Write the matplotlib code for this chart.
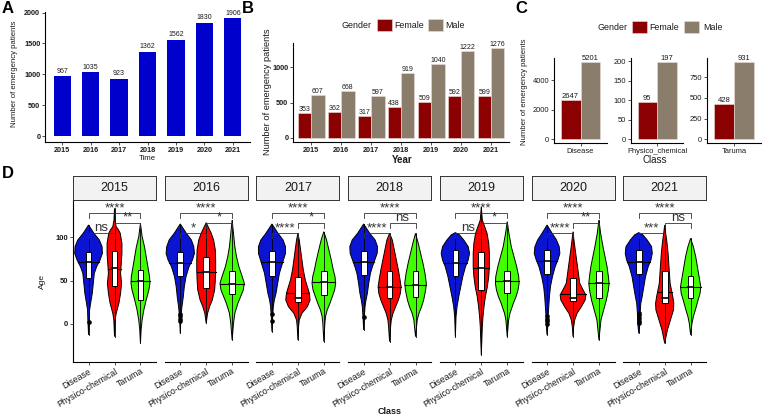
import numpy as np
import matplotlib
matplotlib.use("Agg")
import matplotlib.pyplot as plt
from matplotlib.patches import Rectangle

plt.rcParams['font.family'] = ['Liberation Sans', 'DejaVu Sans']

# ---------------- data ----------------
years = ['2015', '2016', '2017', '2018', '2019', '2020', '2021']
total_patients = [967, 1035, 923, 1362, 1562, 1830, 1906]
genders = ['Female', 'Male']
female_by_year = [353, 362, 317, 438, 509, 592, 599]
male_by_year = [607, 668, 597, 919, 1040, 1222, 1276]
classes_c = ['Disease', 'Physico_chemical', 'Taruma']
female_by_class = [2647, 95, 428]
male_by_class = [5201, 197, 931]
c_ticks = [[0, 2000, 4000], [0, 50, 100, 150, 200], [0, 250, 500, 750]]
classes_d = ['Disease', 'Physico-chemical', 'Taruma']

# violin profiles (age, relative density) per year
dis_ages = [
    [114.3, 104.7, 97.0, 89.3, 81.6, 73.9, 66.2, 58.5, 47.0, 35.4, 23.8, 16.2, 4.6, -12.7],
    [115.5, 104.7, 97.0, 89.3, 81.6, 73.9, 66.2, 54.7, 43.1, 31.5, 20.0, 8.5, -10.8],
    [115.5, 104.7, 97.0, 89.3, 81.6, 73.9, 66.2, 58.5, 47.0, 35.4, 27.7, 20.0, 8.5, -8.9],
    [115.5, 104.7, 97.0, 89.3, 81.6, 73.9, 66.2, 58.5, 47.0, 35.4, 27.7, 20.0, 8.5, -7.0],
    [105.5, 103.0, 97.0, 89.3, 81.6, 73.9, 66.2, 54.7, 43.1, 31.5, 20.0, 8.5, -14.6],
    [114.3, 104.7, 97.0, 89.3, 81.6, 73.9, 66.2, 54.7, 43.1, 31.5, 20.0, 8.5, -3.1, -12.7],
    [105.5, 103.0, 97.0, 89.3, 81.6, 73.9, 66.2, 54.7, 43.1, 31.5, 23.8, 12.3, 0.8, -10.8],
]
dis_dens = [
    [0, 16, 32, 40, 41, 34, 24, 17, 14, 11, 6, 3, 2, 0],
    [0, 18, 33, 40, 42, 36, 26, 17, 12, 9, 5, 2, 0],
    [0, 18, 33, 40, 40, 34, 28, 22, 17, 12, 7, 4, 2, 0],
    [0, 18, 34, 41, 40, 33, 26, 20, 15, 11, 7, 4, 2, 0],
    [0, 12, 25, 38, 42, 38, 30, 22, 16, 10, 5, 2, 0],
    [0, 15, 28, 36, 38, 32, 24, 16, 10, 7, 5, 3, 2, 0],
    [0, 12, 25, 38, 40, 36, 28, 20, 15, 10, 6, 4, 3, 0],
]
phy_ages = [
    [133.6, 120.0, 112.4, 108.6, 104.7, 93.2, 81.6, 70.1, 58.5, 47.0, 35.4, 23.8, 12.3, 4.6, -14.6],
    [117.0, 104.7, 97.0, 85.5, 73.9, 62.4, 50.8, 39.3, 27.7, 20.0, 12.3, 0.8],
    [104.7, 97.0, 85.5, 73.9, 62.4, 50.8, 43.1, 35.4, 27.7, 20.0, 12.3, 4.6, -3.1, -18.5],
    [104.7, 97.0, 85.5, 73.9, 62.4, 50.8, 43.1, 35.4, 27.7, 20.0, 12.3, 4.6, -3.1, -20.4],
    [135.5, 120.1, 112.4, 104.7, 93.2, 81.6, 66.2, 54.7, 43.1, 31.5, 20.0, 8.5, -3.1, -35.8],
    [106.6, 93.2, 81.6, 70.1, 58.5, 47.0, 39.3, 33.5, 27.7, 20.0, 12.3, 4.6, -3.1, -14.6],
    [114.3, 104.7, 93.2, 81.6, 70.1, 58.5, 47.0, 39.3, 31.5, 23.8, 16.2, 8.5, 0.8, -7.0, -14.6, -22.4],
]
phy_dens = [
    [0, 1.5, 5, 12, 17, 22, 22, 20, 18, 21, 18, 13, 5, 2, 0],
    [0, 15, 22, 27, 28, 28, 27, 25, 18, 10, 4, 0],
    [0, 4, 8, 12, 16, 22, 28, 34, 36, 28, 12, 4, 2, 0],
    [0, 8, 14, 20, 26, 31, 34, 32, 26, 18, 10, 5, 3, 0],
    [0, 3, 10, 17, 22, 24, 24, 22, 18, 12, 8, 5, 3, 0],
    [0, 4, 8, 12, 16, 20, 30, 38, 36, 25, 12, 5, 2, 0],
    [0, 3, 7, 10, 12, 14, 16, 20, 24, 27, 26, 20, 14, 8, 4, 0],
]
tar_ages = [
    [116.2, 100.9, 89.3, 77.8, 66.2, 54.7, 47.0, 39.3, 27.7, 16.2, 4.6, -7.0, -22.4],
    [120.1, 104.7, 89.3, 77.8, 66.2, 54.7, 47.0, 39.3, 31.5, 23.8, 12.3, 0.8, -18.5],
    [106.6, 97.0, 85.5, 73.9, 62.4, 54.7, 47.0, 39.3, 31.5, 23.8, 16.2, 8.5, 0.8, -20.4],
    [104.7, 93.2, 81.6, 70.1, 58.5, 47.0, 39.3, 27.7, 20.0, 12.3, 4.6, -14.6],
    [118.2, 104.7, 89.3, 77.8, 66.2, 54.7, 47.0, 39.3, 31.5, 23.8, 12.3, 4.6, -14.6],
    [120.1, 104.7, 89.3, 77.8, 66.2, 54.7, 47.0, 39.3, 27.7, 16.2, 4.6, -7.0, -18.5],
    [98.9, 89.3, 77.8, 66.2, 54.7, 43.1, 35.4, 27.7, 16.2, 8.5, 0.8, -12.7],
]
tar_dens = [
    [0, 5, 12, 17, 22, 27, 28, 25, 17, 10, 5, 2, 0],
    [0, 4, 8, 13, 20, 30, 36, 33, 25, 17, 8, 4, 0],
    [0, 8, 15, 22, 28, 33, 35, 32, 25, 18, 10, 5, 3, 0],
    [0, 8, 15, 22, 28, 32, 30, 24, 18, 10, 5, 0],
    [0, 5, 12, 20, 28, 34, 35, 32, 26, 18, 8, 4, 0],
    [0, 5, 12, 18, 24, 28, 30, 28, 22, 14, 6, 3, 0],
    [0, 8, 15, 20, 25, 30, 28, 22, 14, 8, 4, 0],
]
# box statistics
dis_q1 = [52.7, 55.4, 55.4, 56.6, 55.4, 57.7, 57.7]
dis_med = [72.0, 70.8, 72.0, 72.0, 70.8, 72.7, 72.0]
dis_q3 = [82.8, 83.5, 84.3, 84.3, 85.5, 85.5, 85.5]
dis_vmed = [72.0, 70.8, 72.0, 72.0, 70.8, 72.7, 72.0]
dis_out = [[2.7], [3, 6, 9, 12], [4, 12], [8.5], [], [0, 3, 6, 9], [1, 4, 7, 10, 13]]
phy_q1 = [43.9, 41.2, 25.5, 30.4, 39.3, 26.5, 24.0]
phy_med = [65.0, 60.4, 30.0, 42.3, 64.3, 29.5, 30.0]
phy_q3 = [84.7, 77.8, 54.0, 61.2, 82.8, 52.7, 61.0]
phy_vmed = [63.0, 60.4, 36.0, 42.3, 64.3, 34.2, 37.0]
phy_out = [[], [], [], [], [], [], []]
tar_q1 = [28.0, 34.2, 34.0, 31.5, 36.2, 30.4, 30.0]
tar_med = [50.0, 45.8, 49.0, 45.0, 49.6, 47.0, 43.0]
tar_q3 = [62.0, 61.2, 61.0, 61.2, 61.2, 61.2, 56.0]
tar_vmed = [50.0, 45.8, 49.0, 45.0, 49.6, 47.0, 43.0]
tar_out = [[], [], [], [], [], [], []]

sig_all = ['****'] * 7
sig_dp = ['ns', '*', '****', '****', 'ns', '****', '***']
sig_pt = ['**', '*', '*', 'ns', '*', '**', 'ns']

# ---------------- style ----------------
W, H = 763, 419
col_bar = '#0000CD'
col_f = '#8B0000'
col_m = '#8B7D6B'
col_v = ['#0A14D2', '#FF0000', '#40FF00']
TXT = '#1A1A1A'

fig = plt.figure(figsize=(W / 100, H / 100), dpi=100)
fig.patch.set_facecolor('white')


def px_axes(l, t, r, b):
    return fig.add_axes([l / W, 1 - b / H, (r - l) / W, (b - t) / H])


def fx(x):
    return x / W


def fy(y):
    return 1 - y / H


def style(ax, left=True, tick_fs=5.2, bold=False):
    for s in ['top', 'right']:
        ax.spines[s].set_visible(False)
    ax.spines['bottom'].set_linewidth(0.8)
    ax.spines['left'].set_linewidth(0.8)
    if not left:
        ax.spines['left'].set_visible(False)
    ax.tick_params(length=2.2, width=0.6, pad=1.2, labelsize=tick_fs,
                   colors='#333333', labelcolor=TXT)
    if bold:
        for lab in ax.get_xticklabels() + ax.get_yticklabels():
            lab.set_fontweight('bold')


# ---------------- Panel A ----------------
axA = px_axes(45, 12.5, 250, 142)
xa = np.arange(1, len(years) + 1)
axA.bar(xa, total_patients, width=0.6, color=col_bar)
for x, v in zip(xa, total_patients):
    axA.annotate(str(v), (x, v), xytext=(0, 1.2), textcoords='offset points',
                 ha='center', va='bottom', fontsize=5, color=TXT)
axA.set_xlim(0.4, 7.6)
axA.set_ylim(-0.05 * max(total_patients), 1.05 * max(total_patients))
axA.set_xticks(xa)
axA.set_xticklabels(years)
axA.set_yticks([0, 500, 1000, 1500, 2000])
style(axA, bold=True)
fig.text(fx(147), fy(159), 'Time', ha='center', va='center', fontsize=5.6, color=TXT)
fig.text(fx(15), fy(74), 'Number of emergency patients', rotation=90,
         ha='center', va='center', fontsize=5.6, color=TXT)

# ---------------- Panel B ----------------
axB = px_axes(293, 43, 509, 142.5)
bw = 0.45
axB.bar(xa - bw / 2, female_by_year, width=bw, color=col_f, edgecolor='#E8E0D8', linewidth=0.4)
axB.bar(xa + bw / 2, male_by_year, width=bw, color=col_m, edgecolor='#E8E0D8', linewidth=0.4)
for x, v in zip(xa - bw / 2, female_by_year):
    axB.text(x, v, str(v), ha='center', va='bottom', fontsize=5, color=TXT)
for x, v in zip(xa + bw / 2, male_by_year):
    axB.text(x, v, str(v), ha='center', va='bottom', fontsize=5, color=TXT)
axB.set_xlim(0.4, 7.6)
ymaxB = max(male_by_year)
axB.set_ylim(-0.05 * ymaxB, 1.05 * ymaxB)
axB.set_xticks(xa)
axB.set_xticklabels(years)
axB.set_yticks([0, 500, 1000])
style(axB, bold=True)
fig.text(fx(402), fy(160), 'Year', ha='center', va='center', fontsize=7, fontweight='bold', color=TXT)
fig.text(fx(267), fy(92), 'Number of emergency patients', rotation=90,
         ha='center', va='center', fontsize=6.7, color=TXT)


def legend(xg, xk1, xt1, xk2, xt2, yc):
    fig.text(fx(xg), fy(yc), 'Gender', ha='left', va='center', fontsize=6.4, color=TXT)
    for xk, xt, col, lab in [(xk1, xt1, col_f, genders[0]), (xk2, xt2, col_m, genders[1])]:
        fig.add_artist(Rectangle((fx(xk), fy(yc + 6)), 15 / W, 12 / H,
                                 transform=fig.transFigure, facecolor=col,
                                 edgecolor='#E8E0D8', linewidth=0.4))
        fig.text(fx(xt), fy(yc), lab, ha='left', va='center', fontsize=6.4, color=TXT)


legend(342, 377, 394, 428, 445, 25)

# ---------------- Panel C ----------------
c_rects = [(554, 607), (631, 683), (707, 761)]
for i, (l, r) in enumerate(c_rects):
    ax = px_axes(l, 58.5, r, 143)
    ax.bar([1 - bw / 2], [female_by_class[i]], width=bw, color=col_f, edgecolor='#E8E0D8', linewidth=0.4)
    ax.bar([1 + bw / 2], [male_by_class[i]], width=bw, color=col_m, edgecolor='#E8E0D8', linewidth=0.4)
    ax.text(1 - bw / 2, female_by_class[i], str(female_by_class[i]), ha='center', va='bottom',
            fontsize=5.5, color=TXT)
    ax.text(1 + bw / 2, male_by_class[i], str(male_by_class[i]), ha='center', va='bottom',
            fontsize=5.5, color=TXT)
    ymax = max(female_by_class[i], male_by_class[i])
    ax.set_ylim(-0.05 * ymax, 1.05 * ymax)
    ax.set_xlim(0.4, 1.6)
    ax.set_xticks([1])
    ax.set_xticklabels([classes_c[i]])
    ax.set_yticks(c_ticks[i])
    style(ax, tick_fs=5.4)
fig.text(fx(655), fy(160), 'Class', ha='center', va='center', fontsize=7, color=TXT)
fig.text(fx(525), fy(92), 'Number of emergency patients', rotation=90,
         ha='center', va='center', fontsize=5.6, color=TXT)
legend(598, 632, 649, 684, 703, 27)

# ---------------- Panel D ----------------
groups = [
    (dis_ages, dis_dens, dis_q1, dis_med, dis_q3, dis_vmed, dis_out),
    (phy_ages, phy_dens, phy_q1, phy_med, phy_q3, phy_vmed, phy_out),
    (tar_ages, tar_dens, tar_q1, tar_med, tar_q3, tar_vmed, tar_out),
]
wscale = 1 / 76.8
ylo, yhi = -43.9, 143.2
tip = 0.03 * (yhi - ylo)
for k, yr in enumerate(years):
    l = 73 + 91.7 * k
    r = l + 83
    ax = px_axes(l, 200, r, 362)
    sax = px_axes(l, 176, r, 200)
    sax.set_facecolor('#F2F2F2')
    sax.set_xticks([])
    sax.set_yticks([])
    for s in sax.spines.values():
        s.set_color('#333333')
        s.set_linewidth(0.7)
    sax.text(0.5, 0.5, yr, ha='center', va='center', fontsize=9, color=TXT,
             transform=sax.transAxes)

    for g, (ag, dn, q1, md, q3, vm, out) in enumerate(groups):
        c = g + 1
        a = np.array(ag[k], dtype=float)
        w = np.array(dn[k], dtype=float) * wscale
        xs = np.concatenate([c + w, (c - w)[::-1]])
        ys = np.concatenate([a, a[::-1]])
        ax.fill(xs, ys, facecolor=col_v[g], edgecolor='black', linewidth=0.7, zorder=2)
        ax.plot([c, c], [a.min(), a.max()], color='black', lw=0.6, zorder=3)
        order = np.argsort(a)
        wv = np.interp(vm[k], a[order], w[order])
        ax.plot([c - wv, c + wv], [vm[k], vm[k]], color='black', lw=0.8, zorder=3)
        ax.add_patch(Rectangle((c - 0.11, q1[k]), 0.22, q3[k] - q1[k], facecolor='white',
                               edgecolor='black', linewidth=0.7, zorder=4))
        ax.plot([c - 0.11, c + 0.11], [md[k], md[k]], color='black', lw=1.2, zorder=5)
        if out[k]:
            ax.scatter([c] * len(out[k]), out[k], s=11, color='black', zorder=5, linewidths=0)

    def bracket(x1, x2, y, lab):
        ax.plot([x1, x1, x2, x2], [y - tip, y, y, y - tip], color='#333333', lw=0.6, zorder=6)
        ax.text((x1 + x2) / 2, y - 1.0, lab, ha='center', va='bottom', fontsize=9.5,
                color='#333333', zorder=6, clip_on=False)

    bracket(1, 2, 105, sig_dp[k])
    bracket(2, 3, 116.6, sig_pt[k])
    bracket(1, 3, 128, sig_all[k])

    ax.set_xlim(0.4, 3.6)
    ax.set_ylim(ylo, yhi)
    ax.set_xticks([1, 2, 3])
    ax.set_xticklabels(classes_d, rotation=30, ha='right', rotation_mode='anchor')
    if k == 0:
        ax.set_yticks([0, 50, 100])
    else:
        ax.set_yticks([])
    style(ax, left=(k == 0), tick_fs=6.3)
    for lab in ax.get_yticklabels():
        lab.set_fontsize(5.5)
        lab.set_fontweight('bold')

fig.text(fx(390), fy(411), 'Class', ha='center', va='center', fontsize=6.5,
         fontweight='bold', color=TXT)
fig.text(fx(42), fy(281), 'Age', rotation=90, ha='center', va='center', fontsize=6, color=TXT)

# panel letters
for lab, x, y in [('A', 2, 1), ('B', 242, 1), ('C', 515, 1), ('D', 2, 166)]:
    fig.text(fx(x), fy(y), lab, ha='left', va='top', fontsize=12, fontweight='bold', color='black')

fig.savefig('out.png', dpi=100)
